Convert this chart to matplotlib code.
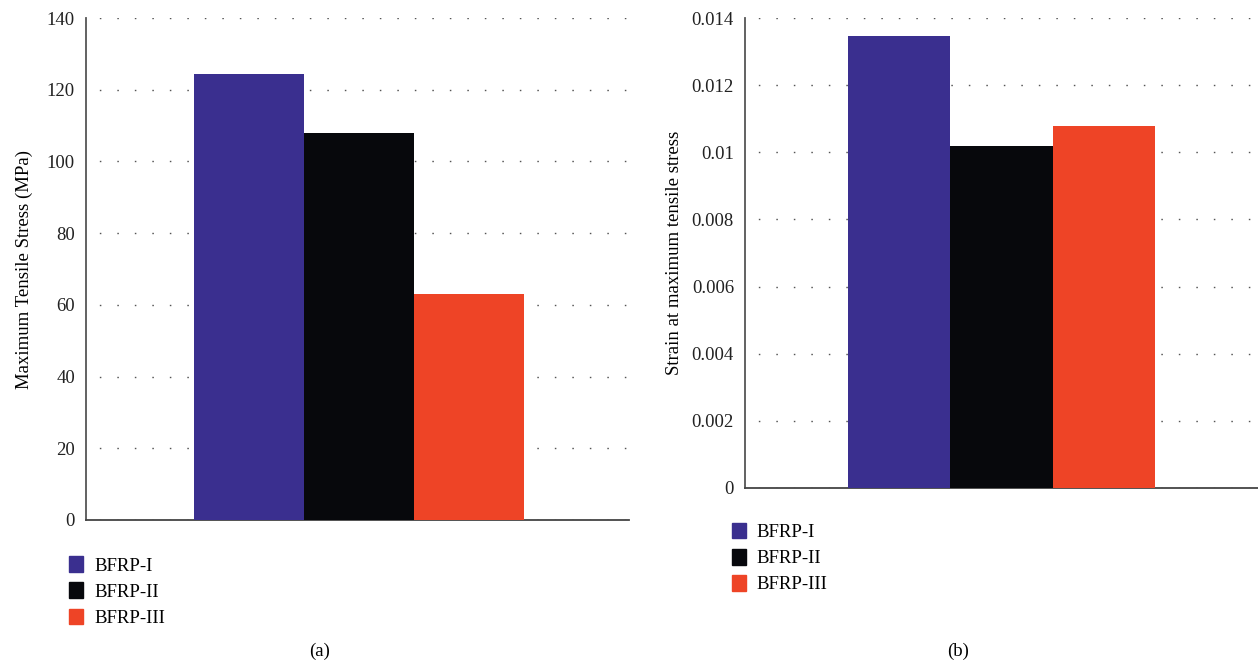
import matplotlib
matplotlib.use('Agg')
import matplotlib.pyplot as plt
import matplotlib.patches as patches

plt.rcParams['font.family'] = ['Liberation Serif', 'DejaVu Serif']

# data
samples = ['BFRP-I', 'BFRP-II', 'BFRP-III']
max_stress = [124.3, 108.0, 63.0]          # MPa
strain_at_max = [0.01347, 0.01019, 0.01078]

stress_ticks = [0, 20, 40, 60, 80, 100, 120, 140]
strain_ticks = [0, 0.002, 0.004, 0.006, 0.008, 0.010, 0.012, 0.014]
strain_labels = ['0', '0.002', '0.004', '0.006', '0.008', '0.01', '0.012', '0.014']

colors = ['#3A2F8F', '#07080C', '#EE4426']

fig = plt.figure(figsize=(12.58, 6.67), dpi=100)
ax1 = fig.add_axes([0.0684, 0.2204, 0.4316, 0.7526])
ax2 = fig.add_axes([0.5922, 0.2684, 0.4078, 0.7046])


def style_axes(ax, ticks, labels, ylim):
    ax.set_ylim(*ylim)
    ax.set_yticks(ticks)
    ax.set_yticklabels(labels)
    ax.set_xticks([])
    ax.tick_params(axis='y', length=0, pad=8, labelsize=13.5, colors='#222222')
    for s in ['top', 'right']:
        ax.spines[s].set_visible(False)
    ax.spines['left'].set_color('#555555')
    ax.spines['bottom'].set_color('#444444')
    ax.spines['left'].set_linewidth(1.3)
    ax.spines['bottom'].set_linewidth(1.3)
    ax.yaxis.grid(True, linestyle=(3, (1.1, 11.5)), color='#555555', linewidth=1.0)
    ax.set_axisbelow(True)


# (a) maximum tensile stress
x = range(len(samples))
ax1.bar(x, max_stress, width=1.0, color=colors, zorder=3)
ax1.set_xlim(-1.48, 3.45)
style_axes(ax1, stress_ticks, [str(t) for t in stress_ticks], (0, 140))
ax1.set_ylabel('Maximum Tensile Stress (MPa)', fontsize=13.5, labelpad=10)

# (b) strain at maximum tensile stress
ax2.bar(x, strain_at_max, width=1.0, color=colors, zorder=3)
ax2.set_xlim(-1.5, 3.5)
style_axes(ax2, strain_ticks, strain_labels, (0, 0.014))
ax2.set_ylabel('Strain at maximum tensile stress', fontsize=13.5, labelpad=6)

handles = [patches.Patch(color=c, label=n) for c, n in zip(colors, samples)]
for anchor in [(0.0548, 0.166), (0.5815, 0.216)]:
    fig.legend(handles=handles, loc='upper left', bbox_to_anchor=anchor,
               bbox_transform=fig.transFigure, frameon=False, fontsize=13.5,
               handlelength=0.75, handleheight=0.9, handletextpad=0.6,
               labelspacing=0.42, borderpad=0, borderaxespad=0)

fig.text(320 / 1258, 1 - 651 / 667, '(a)', ha='center', va='center', fontsize=13.5)
fig.text(958 / 1258, 1 - 651 / 667, '(b)', ha='center', va='center', fontsize=13.5)

fig.savefig('out.png', dpi=100)
